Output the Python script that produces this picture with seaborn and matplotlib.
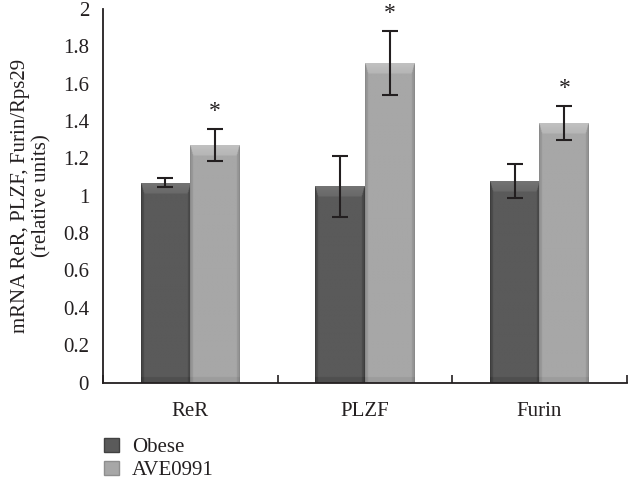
import numpy as np
import pandas as pd
import matplotlib
matplotlib.use('Agg')
import matplotlib.pyplot as plt
import seaborn as sns
from matplotlib.patches import Patch

# dados
genes = ['ReR', 'PLZF', 'Furin']
grupos = ['Obese', 'AVE0991']
obese = [1.07, 1.05, 1.08]
ave = [1.27, 1.71, 1.39]
obese_err = [0.025, 0.163, 0.09]
ave_err = [0.085, 0.17, 0.09]
signif = ['*', '*', '*']

cores = {'Obese': '#5a5a5a', 'AVE0991': '#a7a7a7'}
cor_texto = '#231f20'

df = pd.DataFrame({
    'gene': genes * 2,
    'grupo': ['Obese'] * 3 + ['AVE0991'] * 3,
    'valor': obese + ave,
    'erro': obese_err + ave_err,
})

sns.set_style('white')
plt.rcParams['font.family'] = ['Liberation Serif', 'DejaVu Serif']
plt.rcParams['font.size'] = 15

fig = plt.figure(figsize=(6.28, 4.88), dpi=100)
ax = fig.add_axes([0.164, 0.216, 0.834, 0.766])

sns.barplot(data=df, x='gene', y='valor', hue='grupo', hue_order=grupos,
            palette=cores, width=0.57, gap=0, errorbar=None, ax=ax,
            edgecolor='none', legend=False)


def sombra(cor, clara):
    c = np.array(matplotlib.colors.to_rgb(cor))
    return np.clip(c + clara, 0, 1)


# efeito de bisel nas barras (gradiente)
barras = [p for p in ax.patches if p.get_height() > 0]
for p in barras:
    x0, w, h = p.get_x(), p.get_width(), p.get_height()
    base = np.array(p.get_facecolor()[:3])
    nx, dy = 80, 0.004
    ny = max(int(h / dy), 2)
    xs = np.linspace(0, 1, nx)
    borda = np.minimum(xs, 1 - xs)
    perfil = np.where(borda < 0.06, -0.06, 0.0) + np.where(borda < 0.025, -0.05, 0.0)
    img = np.tile(base, (ny, nx, 1)) + perfil[None, :, None]
    ys = np.linspace(h, 0, ny)
    dist_topo = h - ys
    # chanfro superior: mais claro no alto, cantos diagonais
    for j in range(ny):
        d = dist_topo[j]
        if d < 0.055:
            lim = d / 0.055 * 0.1
            mask = borda >= lim * 0.6
            img[j, mask] = base + 0.10 - d * 0.8
    img[ys < 0.03] -= 0.04
    img = np.clip(img, 0, 1)
    ax.imshow(img, extent=[x0, x0 + w, 0, h], aspect='auto', zorder=2,
              interpolation='bilinear')
    p.set_visible(False)

# barras de erro e asteriscos
for p, (_, linha) in zip(barras, df.iterrows()):
    cx = p.get_x() + p.get_width() / 2
    ax.errorbar(cx, linha['valor'], yerr=linha['erro'], fmt='none',
                ecolor=cor_texto, elinewidth=1.5, capsize=5.5, capthick=1.5, zorder=3)
for i, s in enumerate(signif):
    p = barras[3 + i]
    cx = p.get_x() + p.get_width() / 2
    ax.annotate(s, (cx, ave[i] + ave_err[i]), xytext=(0, 5), textcoords='offset points',
                ha='center', va='bottom', fontsize=17, color=cor_texto)

ax.set_xlim(-0.5, 2.5)
ax.set_ylim(0, 2)
ax.set_yticks(np.arange(0, 2.01, 0.2))
ax.set_yticklabels(['0', '0.2', '0.4', '0.6', '0.8', '1', '1.2', '1.4', '1.6', '1.8', '2'])
ax.set_xticks(range(3))
ax.set_xticklabels(genes)
ax.set_xticks([-0.5, 0.5, 1.5, 2.5], minor=True)
ax.tick_params(axis='x', which='major', length=0, pad=14, colors=cor_texto)
ax.tick_params(axis='x', which='minor', length=6, width=1.2, direction='in', color=cor_texto)
ax.tick_params(axis='x', which='minor', bottom=True)
ax.tick_params(axis='y', length=5, width=1.2, direction='out', colors=cor_texto, pad=5)
for lado in ['top', 'right']:
    ax.spines[lado].set_visible(False)
for lado in ['left', 'bottom']:
    ax.spines[lado].set_color(cor_texto)
    ax.spines[lado].set_linewidth(1.3)
ax.set_xlabel('')
ax.set_ylabel('mRNA ReR, PLZF, Furin/Rps29\n(relative units)', color=cor_texto,
              fontsize=15, labelpad=8, linespacing=1.2)

handles = [Patch(facecolor=cores[g], edgecolor=sombra(cores[g], -0.1), label=g) for g in grupos]
fig.legend(handles=handles, loc='upper left', bbox_to_anchor=(0.152, 0.12),
           frameon=False, fontsize=15, handlelength=0.75, handleheight=0.65,
           handletextpad=0.6, labelspacing=0.2, borderaxespad=0, labelcolor=cor_texto)

fig.savefig('out.png', dpi=100)
